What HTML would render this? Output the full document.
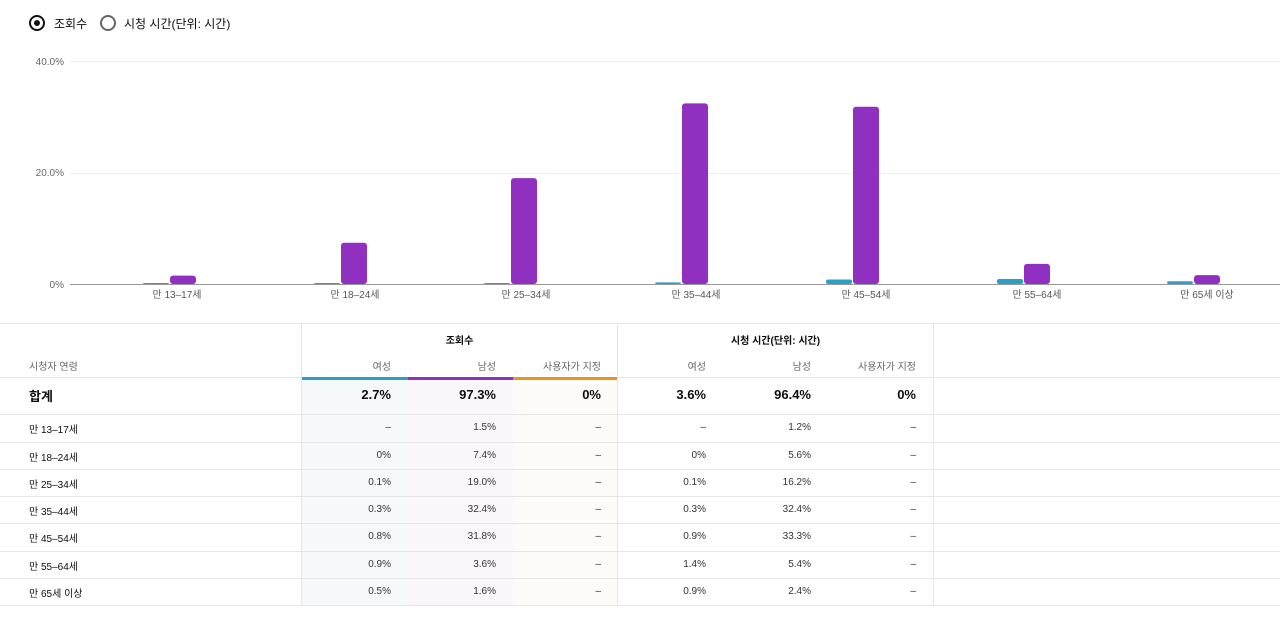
<!DOCTYPE html>
<html><head><meta charset="utf-8"><style>
body{margin:0;width:1280px;height:624px;background:#fff;font-family:"Liberation Sans","Noto Sans CJK KR",sans-serif;color:#0d0d0d;position:relative;overflow:hidden}
.a{position:absolute;white-space:nowrap}
.r{text-align:right}
.c{text-align:center}
.hl{position:absolute;height:1px;background:#e6e6e6}
.vl{position:absolute;width:1px;background:#e6e6e6}
</style></head><body>
<div class="a" style="left:29px;top:15px;width:12px;height:12px;border:2px solid #111;border-radius:50%"></div>
<div class="a" style="left:34px;top:20px;width:6px;height:6px;background:#111;border-radius:50%"></div>
<div class="a" style="left:54px;top:15px;font-size:12px">조회수</div>
<div class="a" style="left:100px;top:15px;width:12px;height:12px;border:2px solid #666;border-radius:50%"></div>
<div class="a" style="left:124px;top:15px;font-size:12px">시청 시간(단위: 시간)</div>
<svg class="a" style="left:0;top:0" width="1280" height="310">
<g font-family="Liberation Sans, Noto Sans CJK KR, sans-serif" font-size="10" fill="#666">
<text x="64" y="65" text-anchor="end">40.0%</text>
<text x="64" y="176" text-anchor="end">20.0%</text>
<text x="64" y="288" text-anchor="end">0%</text>
</g>
<line x1="70" y1="61.5" x2="1280" y2="61.5" stroke="#eee"/>
<line x1="70" y1="173.5" x2="1280" y2="173.5" stroke="#eee"/>
<line x1="70" y1="284.5" x2="1280" y2="284.5" stroke="#999"/>
<g id="bars"></g>
<g font-family="Liberation Sans, Noto Sans CJK KR, sans-serif" font-size="10" fill="#555" text-anchor="middle">
<text x="177" y="298">만 13–17세</text><text x="355" y="298">만 18–24세</text><text x="526" y="298">만 25–34세</text><text x="696" y="298">만 35–44세</text><text x="866" y="298">만 45–54세</text><text x="1037" y="298">만 55–64세</text><text x="1207" y="298">만 65세 이상</text>
</g>
</svg>
<script>
var c=[183,354,524,695,866,1037,1207],p=[1.5,7.4,19.0,32.4,31.8,3.6,1.6],b=[0,0,0.1,0.3,0.8,0.9,0.5],s='';
for(var i=0;i<7;i++){var hp=p[i]*5.575,hb=Math.max(b[i]*5.575,1);
s+='<rect x="'+(c[i]-13)+'" y="'+(284-hp)+'" width="26" height="'+hp+'" rx="3" fill="#9030c0"/>';
s+='<rect x="'+(c[i]-40)+'" y="'+(284-hb)+'" width="26" height="'+hb+'" rx="2" fill="#2aa0c8"/>';}
document.getElementById('bars').innerHTML=s;
</script>
<div class="a" style="left:302px;top:378px;width:106px;height:227px;background:#f6f9fb"></div>
<div class="a" style="left:408px;top:378px;width:105px;height:227px;background:#fbf6fc"></div>
<div class="a" style="left:513px;top:378px;width:104px;height:227px;background:#fdfbf7"></div>
<div class="hl" style="left:0;top:323px;width:1280px"></div>
<div class="hl" style="left:0;top:377px;width:1280px"></div>
<div class="hl" style="left:0;top:414px;width:1280px"></div>
<div class="hl" style="left:0;top:442px;width:1280px"></div>
<div class="hl" style="left:0;top:469px;width:1280px"></div>
<div class="hl" style="left:0;top:496px;width:1280px"></div>
<div class="hl" style="left:0;top:523px;width:1280px"></div>
<div class="hl" style="left:0;top:551px;width:1280px"></div>
<div class="hl" style="left:0;top:578px;width:1280px"></div>
<div class="hl" style="left:0;top:605px;width:1280px"></div>
<div class="vl" style="left:301px;top:323px;height:282px"></div>
<div class="vl" style="left:617px;top:323px;height:282px"></div>
<div class="vl" style="left:933px;top:323px;height:282px"></div>
<div class="a" style="left:302px;top:377px;width:106px;height:3px;background:#2aa0c8"></div>
<div class="a" style="left:408px;top:377px;width:105px;height:3px;background:#9030c0"></div>
<div class="a" style="left:513px;top:377px;width:104px;height:3px;background:#e8941c"></div>
<div class="a c" style="left:302px;top:332px;width:315px;font-size:10px;font-weight:bold">조회수</div>
<div class="a c" style="left:618px;top:332px;width:315px;font-size:10px;font-weight:bold">시청 시간(단위: 시간)</div>
<div class="a" style="left:29px;top:358px;font-size:10px;color:#666">시청자 연령</div>
<div id="t"></div>
<script>
var R=[391,496,601,706,811,916];
var h=['여성','남성','사용자가 지정','여성','남성','사용자가 지정'],o='';
for(var j=0;j<6;j++)o+='<div class="a r" style="left:'+(R[j]-150)+'px;width:150px;top:358px;font-size:10px;color:#666">'+h[j]+'</div>';
var tot=['2.7%','97.3%','0%','3.6%','96.4%','0%'];
o+='<div class="a" style="left:29px;top:386px;font-size:13px;font-weight:bold">합계</div>';
for(j=0;j<6;j++)o+='<div class="a r" style="left:'+(R[j]-150)+'px;width:150px;top:387px;font-size:13px;font-weight:bold">'+tot[j]+'</div>';
var rows=[['만 13–17세','–','1.5%','–','–','1.2%','–'],['만 18–24세','0%','7.4%','–','0%','5.6%','–'],['만 25–34세','0.1%','19.0%','–','0.1%','16.2%','–'],['만 35–44세','0.3%','32.4%','–','0.3%','32.4%','–'],['만 45–54세','0.8%','31.8%','–','0.9%','33.3%','–'],['만 55–64세','0.9%','3.6%','–','1.4%','5.4%','–'],['만 65세 이상','0.5%','1.6%','–','0.9%','2.4%','–']];
var ys=[422,450,477,504,531,559,586];
for(var i=0;i<7;i++){o+='<div class="a" style="left:29px;top:'+(ys[i]-1)+'px;font-size:10px">'+rows[i][0]+'</div>';
for(j=0;j<6;j++)o+='<div class="a r" style="left:'+(R[j]-150)+'px;width:150px;top:'+ys[i]+'px;font-size:10px;color:#333">'+rows[i][j+1]+'</div>';}
document.getElementById('t').innerHTML=o;
</script>
</body></html>
